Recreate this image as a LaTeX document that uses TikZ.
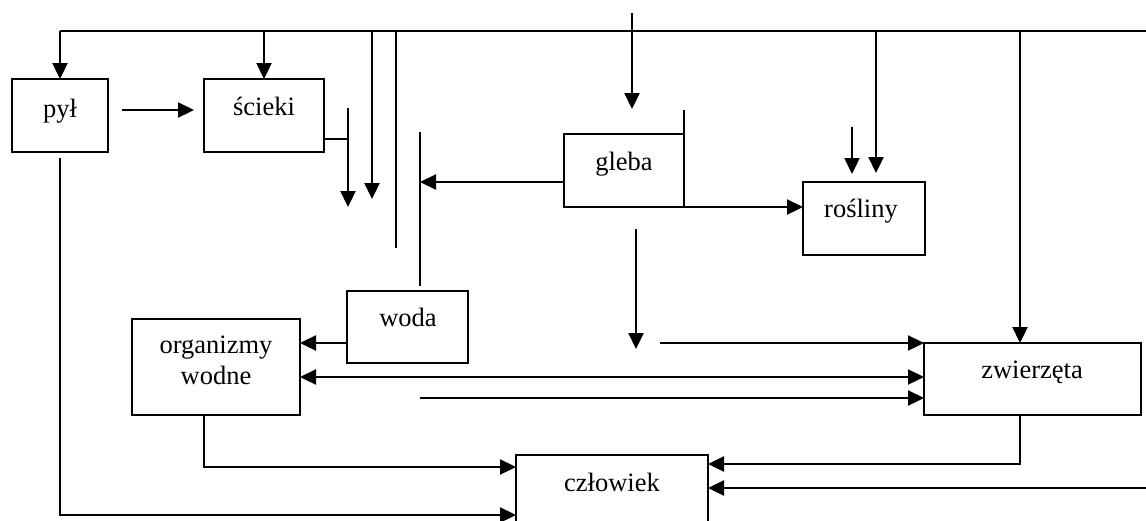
\documentclass[tikz,border=0pt]{standalone}
\usepackage{fontspec}
\setmainfont{Liberation Serif}
\usetikzlibrary{arrows.meta}
\begin{document}
\begin{tikzpicture}[x=1pt,y=-1pt,
  >={Triangle[length=16pt,width=15pt]},
  box/.style 2 args={draw,line width=1.8pt,minimum width=#1,minimum height=#2,inner sep=0pt,outer sep=0pt},
  lbl/.style={font=\fontsize{26.5}{31}\selectfont,anchor=base,inner sep=0pt},
  arr/.style={line width=2.3pt,->},
  wire/.style={line width=1.5pt}]
\useasboundingbox (0,0) rectangle (1146,520);
\clip (0,0) rectangle (1146,520);
% boxes
\node[box={96pt}{73pt}] (pyl) at (60,115.5) {};
\node[box={120pt}{73pt}] (scieki) at (264,115.5) {};
\node[box={120pt}{73pt}] (gleba) at (624,170.5) {};
\node[box={122pt}{73pt}] (rosliny) at (864,218.5) {};
\node[box={121pt}{72pt}] (woda) at (407.5,327) {};
\node[box={168pt}{96pt}] (organizmy) at (216,367) {};
\node[box={217pt}{72pt}] (zwierzeta) at (1032.5,379) {};
\node[box={192pt}{90pt}] (czlowiek) at (612,500) {};
% labels
\node[lbl] (tpyl) at (60,117) {pył};
\node[lbl] (tscieki) at (264,115) {ścieki};
\node[lbl] (tgleba) at (624,170) {gleba};
\node[lbl] (trosliny) at (861,217) {rośliny};
\node[lbl] (twoda) at (408,326) {woda};
\node[lbl] (torg1) at (216,353) {organizmy};
\node[lbl] (torg2) at (216,384) {wodne};
\node[lbl] (tzw) at (1032,378) {zwierzęta};
\node[lbl] (tczl) at (612,491) {człowiek};
% coordinates
\coordinate (topR) at (1146,31);
\coordinate (p1) at (122,110);
\coordinate (p2) at (194,110);
\coordinate (s1) at (348,139);
\coordinate (s2) at (348,108);
\coordinate (s3) at (348,207);
\coordinate (c372) at (372,199);
\coordinate (c396) at (396,248);
\coordinate (w1) at (420,132);
\coordinate (w2) at (420,286);
\coordinate (g182) at (420,182);
\coordinate (t1) at (632,13);
\coordinate (t2) at (632,109);
\coordinate (g1) at (684,110);
\coordinate (r1) at (852,127);
\coordinate (r2) at (852,174);
\coordinate (r3) at (876,173);
\coordinate (z1) at (1020,343);
\coordinate (m1) at (636,229);
\coordinate (m2) at (636,349);
\coordinate (m3) at (660,343);
\coordinate (o343) at (300,343);
\coordinate (d377) at (300,377);
\coordinate (l398) at (420,398);
\coordinate (ob) at (204,467);
\coordinate (pb0) at (60,158);
\coordinate (pb) at (60,515);
\coordinate (zb) at (1020,464);
\coordinate (rb) at (1146,488);
% connectors
\draw[wire] (topR) -- (pyl.north |- topR);
\draw[arr] (pyl.north |- topR) -- (pyl.north);
\draw[arr] (scieki.north |- topR) -- (scieki.north);
\draw[arr] (p1) -- (p2);
\draw[wire] (scieki.east |- s1) -- (s1);
\draw[arr] (s2) -- (s3);
\draw[arr] (c372 |- topR) -- (c372);
\draw[wire] (c396 |- topR) -- (c396);
\draw[wire] (w1) -- (w2);
\draw[arr] (gleba.west |- g182) -- (g182);
\draw[arr] (t1) -- (t2);
\draw[wire] (g1) -- (gleba.south east);
\draw[arr] (gleba.south east) -- (rosliny.west |- gleba.south east);
\draw[arr] (r1) -- (r2);
\draw[arr] (r3 |- topR) -- (r3);
\draw[arr] (z1 |- topR) -- (z1);
\draw[arr] (m1) -- (m2);
\draw[arr] (m3) -- (zwierzeta.north west);
\draw[arr] (woda.west |- o343) -- (o343);
\draw[arr,<->] (d377) -- (zwierzeta.west |- d377);
\draw[arr] (l398) -- (zwierzeta.west |- l398);
\draw[arr] (ob |- organizmy.south) |- (czlowiek.west |- ob);
\draw[arr] (pb0) |- (czlowiek.west |- pb);
\draw[arr] (zb |- zwierzeta.south) |- (czlowiek.east |- zb);
\draw[arr] (rb) -- (czlowiek.east |- rb);
\end{tikzpicture}
\end{document}
